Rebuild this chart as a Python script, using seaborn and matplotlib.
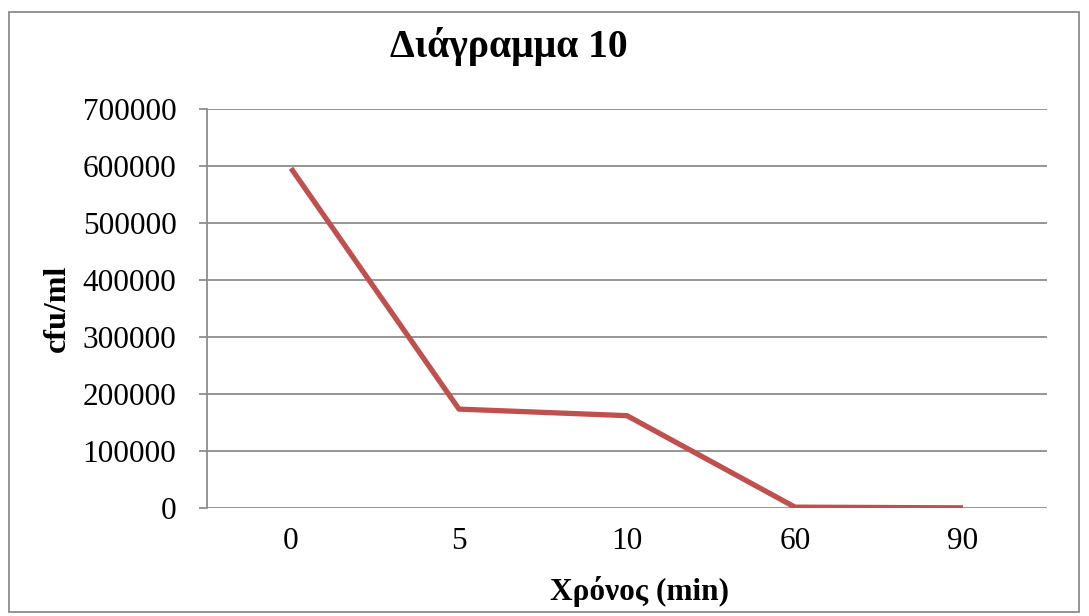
import matplotlib
matplotlib.use("Agg")
import matplotlib.pyplot as plt
import seaborn as sns
import pandas as pd
from matplotlib.patches import Rectangle

categories = ["0", "5", "10", "60", "90"]
values = [596000, 173500, 162000, 1500, 300]
yticks = [0, 100000, 200000, 300000, 400000, 500000, 600000, 700000]

sns.set_theme(style="white")
plt.rcParams['font.family'] = ['Liberation Serif', 'DejaVu Serif']
plt.rcParams['text.color'] = 'black'
plt.rcParams['axes.labelcolor'] = 'black'
plt.rcParams['xtick.color'] = 'black'
plt.rcParams['ytick.color'] = 'black'

df = pd.DataFrame({"time": categories, "cfu": values})

fig = plt.figure(figsize=(10.89, 6.16), dpi=100)
ax = fig.add_axes([207/1089, 1 - 508/616, (1047-207)/1089, (508-109)/616])

sns.lineplot(data=df, x="time", y="cfu", sort=False, color="#C0504D",
             linewidth=3.8, ax=ax, solid_capstyle="butt")

ax.set_xlim(-0.5, len(categories) - 0.5)
ax.set_ylim(0, 700000)
ax.set_yticks(yticks)
ax.set_yticklabels([str(v) for v in yticks])
ax.yaxis.grid(True, color="#8C8C8C", linewidth=1.3)
ax.set_axisbelow(True)
for s in ["top", "right", "bottom"]:
    ax.spines[s].set_visible(False)
ax.spines["left"].set_color("#8C8C8C")
ax.spines["left"].set_linewidth(1.3)
ax.tick_params(axis="y", length=6, width=1.3, color="#8C8C8C", left=True,
               labelsize=22.5, pad=16, labelcolor="black")
ax.tick_params(axis="x", length=0, labelsize=22.5, pad=14, labelcolor="black")

ax.set_xlabel("Χρόνος (min)", fontsize=22.5, fontweight="bold", labelpad=14)
ax.xaxis.label.set_x(0.515)
ax.set_ylabel("cfu/ml", fontsize=23, fontweight="bold", labelpad=8)
fig.text(509/1089, 1 - 47/616, "Διάγραμμα 10", fontsize=28.5, fontweight="bold",
         ha="center", va="center")

fig.patches.append(Rectangle((9/1089, 1 - 612/616), (1079-9)/1089, (612-12)/616,
                             transform=fig.transFigure, fill=False,
                             edgecolor="#8C8C8C", linewidth=1.3))

fig.savefig("out.png", dpi=100)
